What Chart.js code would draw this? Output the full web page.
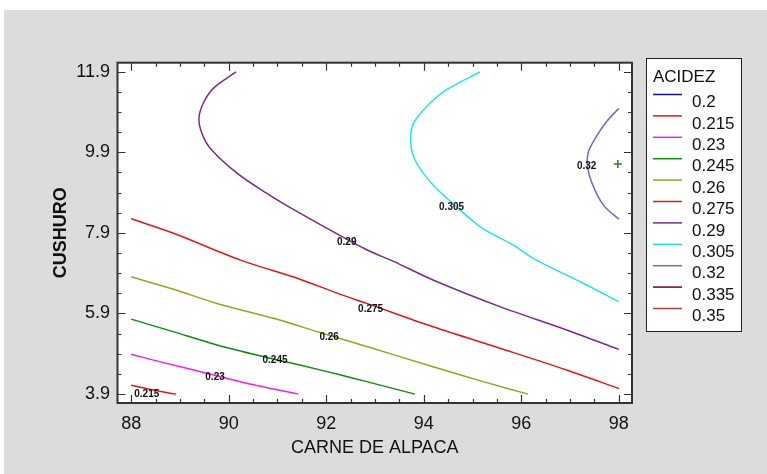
<!DOCTYPE html>
<html>
<head>
<meta charset="utf-8">
<script src="https://cdn.jsdelivr.net/npm/chart.js@4.4.1/dist/chart.umd.min.js"></script>
<style>
  html, body { margin: 0; padding: 0; background: #fff; }
  #c { display: block; }
</style>
</head>
<body>
<canvas id="c" width="767" height="474"></canvas>
<script>
// contour levels (legend order)
const levels = ['0.2', '0.215', '0.23', '0.245', '0.26', '0.275', '0.29', '0.305', '0.32', '0.335', '0.35'];
const levelColors = ['#10108a', '#e01818', '#ee22ee', '#128a12', '#a0a020', '#e01818', '#7a2a8c', '#22e6e6', '#6c6cc0', '#800010', '#a84040'];

// contour paths [carne, cushuro]
const c0215 = [[88, 4.12], [88.45, 4.0], [88.92, 3.9]];
const c0230 = [[88, 4.89], [88.6, 4.7], [89.55, 4.42], [90.37, 4.17], [91.43, 3.9]];
const c0245 = [[88, 5.76], [88.86, 5.45], [89.76, 5.12], [90.78, 4.81], [91.46, 4.62], [92.28, 4.38], [92.83, 4.21], [93.82, 3.9]];
const c0260 = [[88, 6.81], [88.87, 6.5], [89.76, 6.15], [90.92, 5.78], [91.87, 5.43], [92.83, 5.08], [94.19, 4.58], [95.22, 4.21], [96.14, 3.9]];
const c0275 = [[88, 8.25], [88.87, 7.89], [90.23, 7.23], [91.46, 6.75], [92.28, 6.38], [92.83, 6.15], [94.19, 5.57], [95.56, 5.04], [96.93, 4.5], [98, 4.04]];
const c0290 = [[90.15, 11.89], [89.69, 11.49], [89.48, 11.12], [89.39, 10.74], [89.45, 10.37], [89.62, 10.0], [90.17, 9.38], [90.78, 8.88], [91.46, 8.39], [92.83, 7.48], [93.37, 7.2], [94.19, 6.73], [95.56, 6.07], [96.93, 5.49], [98, 5.01]];
const c0305 = [[95.15, 11.89], [94.47, 11.45], [94.13, 11.12], [93.79, 10.62], [93.73, 10.21], [93.79, 9.79], [93.99, 9.38], [94.26, 9.0], [94.67, 8.55], [95.18, 8.03], [95.83, 7.6], [96.27, 7.25], [97.27, 6.65], [98, 6.19]];
const c0320 = [[98, 10.99], [97.75, 10.66], [97.54, 10.29], [97.37, 9.88], [97.37, 9.46], [97.51, 8.96], [97.71, 8.55], [98, 8.24]];
const contours = [[], c0215, c0230, c0245, c0260, c0275, c0290, c0305, c0320, [], []];

// in-plot level labels
const labelText = ['0.215', '0.23', '0.245', '0.26', '0.275', '0.29', '0.305', '0.32'];
const labelX = [88.32, 89.72, 90.95, 92.06, 92.91, 92.42, 94.57, 97.34];
const labelY = [3.90, 4.31, 4.75, 5.30, 6.01, 7.66, 8.54, 9.56];

// optimum marker
const optX = [97.98];
const optY = [9.61];

// axes
const xTicks = [88, 90, 92, 94, 96, 98];
const yTicks = [3.9, 5.9, 7.9, 9.9, 11.9];
const xMinor = [88.5, 89, 89.5, 90.5, 91, 91.5, 92.5, 93, 93.5, 94.5, 95, 95.5, 96.5, 97, 97.5];
const yMinor = [4.4, 4.9, 5.4, 6.4, 6.9, 7.4, 8.4, 8.9, 9.4, 10.4, 10.9, 11.4];

const datasets = contours.map((pts, i) => ({
  label: levels[i],
  data: pts.map(p => ({ x: p[0], y: p[1] })),
  showLine: true,
  borderColor: levelColors[i],
  backgroundColor: levelColors[i],
  borderWidth: 1.5,
  pointRadius: 0,
  tension: 0.3,
}));
datasets.push({
  label: 'opt',
  data: optX.map((x, i) => ({ x: x, y: optY[i] })),
  showLine: false,
  pointStyle: 'cross',
  pointRadius: 4,
  borderColor: '#1a8a1a',
  borderWidth: 1.5,
});

const framePlugin = {
  id: 'frame',
  beforeDraw(chart) {
    const ctx = chart.ctx;
    const a = chart.chartArea;
    ctx.save();
    ctx.fillStyle = '#ffffff';
    ctx.fillRect(0, 0, chart.width, chart.height);
    ctx.fillStyle = '#dcdcdc';
    ctx.fillRect(4, 10, chart.width - 4, chart.height - 10);
    ctx.fillStyle = '#ffffff';
    ctx.fillRect(a.left, a.top, a.right - a.left, a.bottom - a.top);
    ctx.restore();
  },
  afterDatasetsDraw(chart) {
    const ctx = chart.ctx;
    const xs = chart.scales.x, ys = chart.scales.y;
    ctx.save();
    ctx.fillStyle = '#111';
    ctx.font = 'bold 10px "Liberation Sans", Arial, sans-serif';
    ctx.textAlign = 'center';
    ctx.textBaseline = 'middle';
    labelText.forEach((t, i) => {
      ctx.fillText(t, xs.getPixelForValue(labelX[i]), ys.getPixelForValue(labelY[i]));
    });
    ctx.restore();
  },
  afterDraw(chart) {
    const ctx = chart.ctx;
    const a = chart.chartArea;
    const xs = chart.scales.x, ys = chart.scales.y;
    ctx.save();
    ctx.strokeStyle = '#333';
    ctx.lineWidth = 1.2;
    ctx.beginPath();
    const tickX = (v, len) => {
      const px = Math.round(xs.getPixelForValue(v)) + 0.5;
      ctx.moveTo(px, a.bottom); ctx.lineTo(px, a.bottom - len);
      ctx.moveTo(px, a.top); ctx.lineTo(px, a.top + len);
    };
    const tickY = (v, len) => {
      const py = Math.round(ys.getPixelForValue(v)) + 0.5;
      ctx.moveTo(a.left, py); ctx.lineTo(a.left + len, py);
      ctx.moveTo(a.right, py); ctx.lineTo(a.right - len, py);
    };
    xTicks.forEach(v => tickX(v, 8));
    xMinor.forEach(v => tickX(v, 4));
    yTicks.forEach(v => tickY(v, 8));
    yMinor.forEach(v => tickY(v, 4));
    ctx.stroke();
    ctx.lineWidth = 2;
    ctx.strokeRect(a.left, a.top, a.right - a.left, a.bottom - a.top);

    // legend
    const lx = 646, ly = 58, lw = 95, lh = 273;
    ctx.fillStyle = '#fff';
    ctx.fillRect(lx, ly, lw, lh);
    ctx.strokeStyle = '#222';
    ctx.lineWidth = 1;
    ctx.strokeRect(lx + 0.5, ly + 0.5, lw, lh);
    ctx.fillStyle = '#111';
    ctx.font = '17px "Liberation Sans", Arial, sans-serif';
    ctx.textAlign = 'left';
    ctx.textBaseline = 'middle';
    ctx.fillText('ACIDEZ', 653, 77);
    levels.forEach((lab, i) => {
      const y = 94.5 + i * 21.4;
      ctx.strokeStyle = levelColors[i];
      ctx.lineWidth = 1.5;
      ctx.beginPath();
      ctx.moveTo(653, y); ctx.lineTo(682, y);
      ctx.stroke();
      ctx.fillStyle = '#111';
      ctx.fillText(lab, 692, y + 8);
    });
    ctx.restore();
  }
};

new Chart(document.getElementById('c'), {
  type: 'scatter',
  data: { datasets: datasets },
  options: {
    responsive: false,
    animation: false,
    layout: { padding: { left: 0, top: 62.7, right: 135, bottom: 0 } },
    plugins: { legend: { display: false }, tooltip: { enabled: false } },
    scales: {
      x: {
        type: 'linear',
        min: 87.72,
        max: 98.27,
        grid: { display: false, drawTicks: false },
        border: { display: false },
        afterBuildTicks: s => { s.ticks = xTicks.map(v => ({ value: v })); },
        afterFit: s => { s.height = 71; },
        ticks: {
          color: '#111',
          font: { family: '"Liberation Sans", Arial, sans-serif', size: 18 },
          padding: 10.5,
          maxRotation: 0,
          callback: v => String(v),
        },
        title: {
          display: true,
          text: 'CARNE DE ALPACA',
          color: '#111',
          font: { family: '"Liberation Sans", Arial, sans-serif', size: 18 },
          padding: { top: 0, bottom: 15 },
        },
      },
      y: {
        type: 'linear',
        min: 3.68,
        max: 12.12,
        grid: { display: false, drawTicks: false },
        border: { display: false },
        afterBuildTicks: s => { s.ticks = yTicks.map(v => ({ value: v })); },
        afterFit: s => { s.width = 117.5; },
        ticks: {
          color: '#111',
          font: { family: '"Liberation Sans", Arial, sans-serif', size: 18 },
          padding: 7.5,
          callback: v => v.toFixed(1),
        },
        title: {
          display: true,
          text: 'CUSHURO',
          color: '#111',
          font: { family: '"Liberation Sans", Arial, sans-serif', size: 18, weight: 'bold' },
          padding: { top: 50, bottom: 0 },
        },
      },
    },
  },
  plugins: [framePlugin],
});
</script>
</body>
</html>
